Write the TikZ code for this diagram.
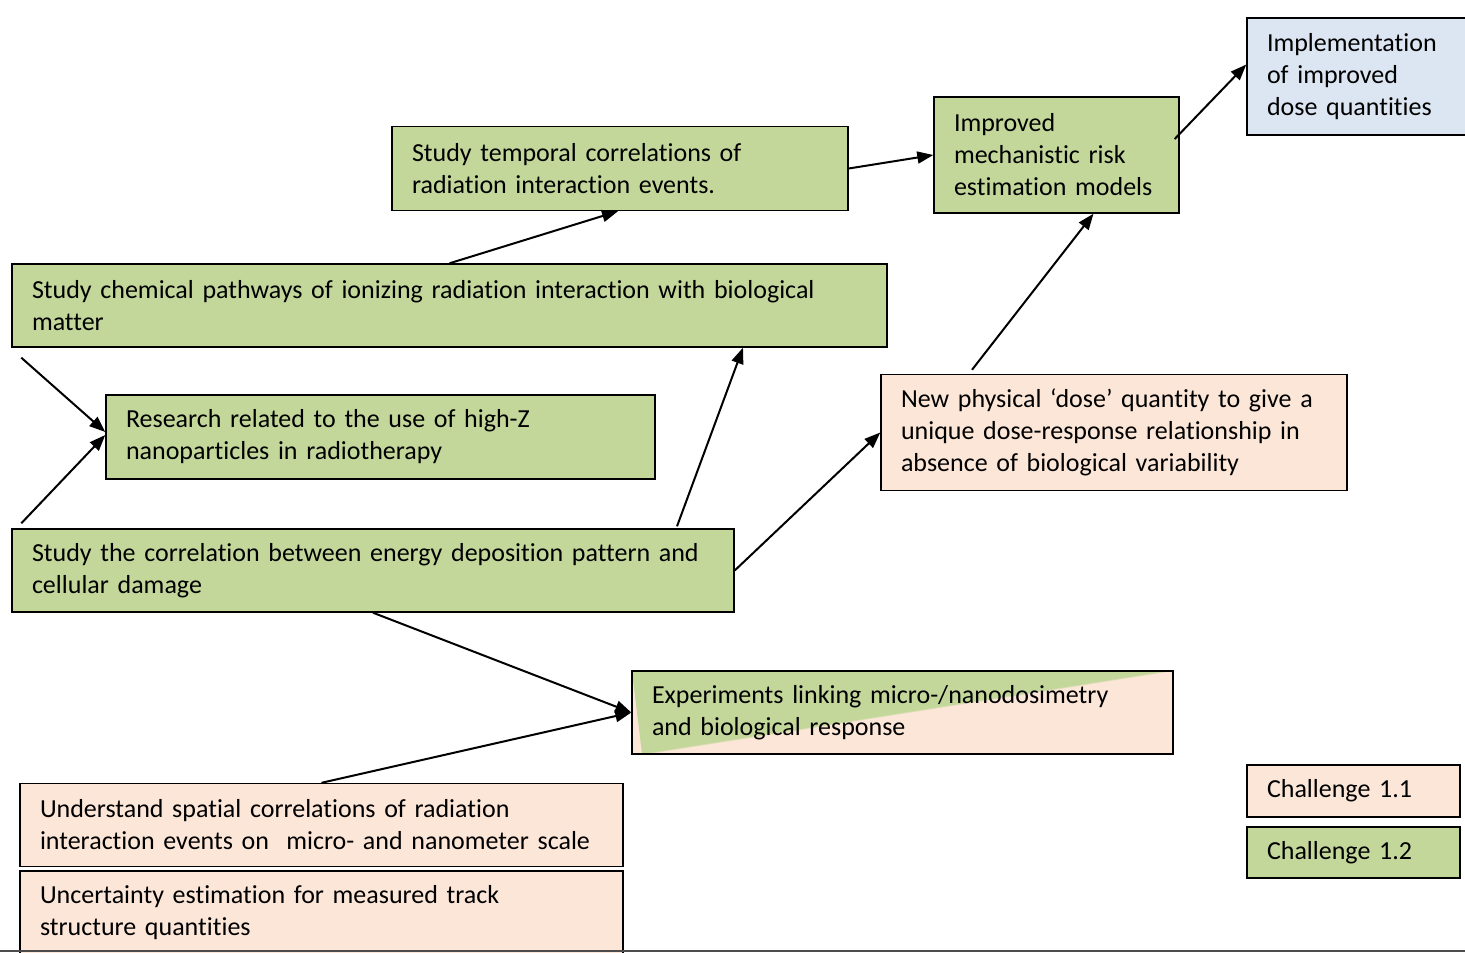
\documentclass[tikz,border=0pt]{standalone}
\usepackage{fontspec}
\setmainfont{Carlito}[Ligatures=NoCommon]
\usetikzlibrary{arrows.meta,calc}
\definecolor{boxgreen}{HTML}{C4D79B}
\definecolor{boxpeach}{HTML}{FCE6D8}
\definecolor{boxblue}{HTML}{DCE6F2}
\begin{document}
\begin{tikzpicture}[x=1pt,y=-1pt,
  box/.style={draw=black, line width=1.4pt, inner xsep=20pt, inner ysep=0pt,
    align=left, anchor=center, font=\fontsize{26}{32}\selectfont},
  green/.style={box, fill=boxgreen},
  peach/.style={box, fill=boxpeach},
  blue/.style={box, fill=boxblue},
  link/.style={line width=2pt, -{Triangle[length=16pt,width=12pt]}}]
\useasboundingbox (0,0) rectangle (1465,953);
\clip (0,0) rectangle (1465,953);

% top chain
\node[green, minimum width=456pt, minimum height=84pt, text width=416pt] (temporal) at (620,168.5)
  {Study temporal correlations of\\radiation interaction events.};
\node[green, minimum width=245pt, minimum height=116pt, text width=205pt] (risk) at (1056.5,155)
  {Improved\\mechanistic risk\\estimation models};
\node[blue, minimum width=220pt, minimum height=117pt, text width=180pt] (impl) at (1357,76.5)
  {Implementation\\of improved\\dose quantities};

% middle boxes
\node[green, minimum width=875pt, minimum height=83pt, text width=835pt] (chem) at (449.5,305.5)
  {Study chemical pathways of ionizing radiation interaction with biological\\matter};
\node[green, minimum width=549pt, minimum height=84pt, text width=509pt] (highz) at (380.5,437)
  {Research related to the use of high-Z\\nanoparticles in radiotherapy};
\node[peach, minimum width=466pt, minimum height=116pt, text width=426pt] (dose) at (1114,432.5)
  {New physical ‘dose’ quantity to give a\\unique dose-response relationship in\\absence of biological variability};
\node[green, minimum width=722pt, minimum height=83pt, text width=682pt] (corr) at (373,570.5)
  {Study the correlation between energy deposition pattern and\\cellular damage};

% two-coloured box: green above the diagonal, peach below
\node[box, minimum width=541pt, minimum height=83pt, text width=501pt,
  path picture={
    \fill[boxpeach] (path picture bounding box.south west) rectangle (path picture bounding box.north east);
    \fill[boxgreen!60!boxpeach] ([xshift=-10pt]path picture bounding box.north east) -- ([xshift=0pt]path picture bounding box.north east)
      -- ([xshift=16pt]path picture bounding box.south west) -- ([xshift=6pt]path picture bounding box.south west) -- cycle;
    \fill[boxgreen] (path picture bounding box.north west) -- ([xshift=-6pt]path picture bounding box.north east)
      -- ([xshift=10pt]path picture bounding box.south west) -- cycle;
  }] (exp) at (902.5,712.5)
  {Experiments linking micro-/nanodosimetry\\and biological response};

% bottom boxes
\node[peach, minimum width=603pt, minimum height=83pt, text width=563pt] (spatial) at (321.5,825)
  {Understand spatial correlations of radiation\\interaction events on \ micro- and nanometer scale};
\node[peach, minimum width=603pt, minimum height=84pt, text width=563pt] (uncert) at (321.5,913)
  {Uncertainty estimation for measured track\\structure quantities};

% legend
\node[peach, minimum width=213pt, minimum height=52pt, text width=173pt] (leg1) at (1353.5,791)
  {Challenge 1.1};
\node[green, minimum width=213pt, minimum height=51pt, text width=173pt] (leg2) at (1353.5,852.5)
  {Challenge 1.2};

% page rule
\coordinate (ruleL) at (0,951);
\coordinate (ruleR) at (1465,951);
\draw[line width=1.6pt, black!70] (ruleL) -- (ruleR);

% connectors
\draw[link] (chem.north) -- ([xshift=-2pt]temporal.south);
\draw[link] (temporal.east) -- (risk.west);
\draw[link] ([xshift=-5pt,yshift=16pt]risk.east) -- ([yshift=12pt]impl.west);
\draw[link] ([xshift=-142pt,yshift=4pt]dose.north) -- ([xshift=37pt]risk.south);
\draw[link] ([xshift=10pt,yshift=-10pt]chem.south west) -- ([yshift=5pt]highz.west);
\draw[link] ([xshift=10pt,yshift=5pt]corr.north west) -- ([yshift=2pt]highz.west);
\draw[link] ([xshift=304pt,yshift=2pt]corr.north) -- ([xshift=293.5pt]chem.south);
\draw[link] (corr.east) -- (dose.west);
\draw[link] (corr.south) -- (exp.west);
\draw[link] (spatial.north) -- (exp.west);
\end{tikzpicture}
\end{document}
